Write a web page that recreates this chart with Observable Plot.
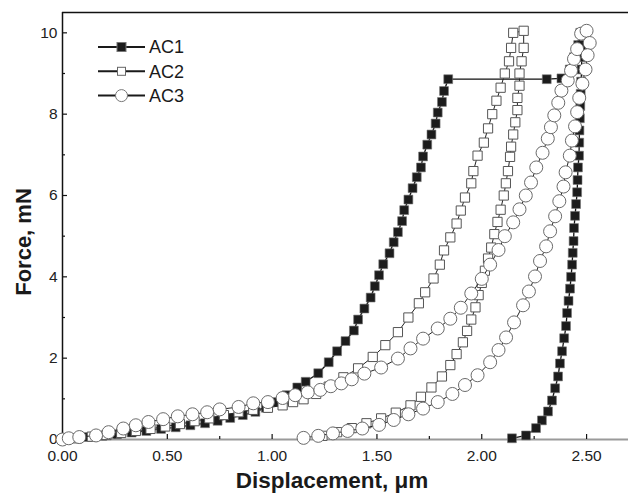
<!DOCTYPE html>
<html>
<head>
<meta charset="utf-8">
<script src="https://cdn.jsdelivr.net/npm/d3@7"></script>
<script src="https://cdn.jsdelivr.net/npm/@observablehq/plot@0.6"></script>
<style>
  body { margin: 0; background: #fff; }
  #chart svg { display: block; }
</style>
</head>
<body>
<div id="chart"></div>
<script>
// ---------- data (displacement in µm, force in mN) ----------
const seriesNames = ["AC1", "AC2", "AC3"];

const ac1Disp = [0.00,0.06,0.12,0.19,0.26,0.33,0.40,0.47,0.54,0.61,0.68,0.74,0.80,0.86,0.92,0.97,1.02,1.07,1.12,1.16,1.22,1.27,1.31,1.35,1.39,1.41,1.44,1.47,1.49,1.51,1.53,1.56,1.58,1.60,1.62,1.63,1.65,1.67,1.69,1.71,1.72,1.74,1.76,1.78,1.79,1.81,1.82,1.84,
  2.31,2.38,2.42,2.44,2.46,2.47,
  2.475,2.477,2.476,2.474,2.472,2.470,2.468,2.466,2.465,2.464,2.459,2.457,2.455,2.450,2.445,2.440,2.438,2.434,2.431,2.426,2.421,2.414,2.407,2.402,2.393,2.383,2.373,2.364,2.350,2.335,2.316,2.287,2.259,2.211,2.144];
const ac1Force = [0.00,0.03,0.06,0.09,0.13,0.17,0.21,0.26,0.30,0.35,0.40,0.46,0.53,0.60,0.68,0.78,0.92,1.09,1.28,1.42,1.63,1.90,2.17,2.42,2.68,2.95,3.22,3.49,3.77,4.04,4.31,4.58,4.85,5.10,5.37,5.64,5.90,6.18,6.45,6.69,6.96,7.25,7.50,7.77,8.04,8.30,8.57,8.86,
  8.86,8.88,9.10,9.40,9.70,10.00,
  9.70,9.40,9.10,8.80,8.50,8.20,7.90,7.60,7.30,6.98,6.69,6.38,6.08,5.79,5.50,5.20,4.88,4.59,4.30,4.00,3.71,3.41,3.11,2.79,2.49,2.17,1.87,1.55,1.26,0.96,0.69,0.47,0.28,0.10,0.03];

const ac2Disp = [0.00,0.07,0.14,0.21,0.28,0.35,0.42,0.49,0.56,0.63,0.70,0.77,0.84,0.91,0.98,1.05,1.10,1.15,1.21,1.27,1.34,1.41,1.48,1.54,1.60,1.65,1.70,1.73,1.77,1.80,1.82,1.85,1.88,1.90,1.92,1.95,1.96,1.98,2.01,2.03,2.05,2.07,2.09,2.11,2.13,2.14,2.15,
  2.20,2.20,2.19,2.18,2.18,2.17,2.17,2.16,2.15,2.14,2.135,2.125,2.115,2.105,2.09,2.075,2.06,2.045,2.03,2.015,2.00,1.985,1.97,1.95,1.93,1.91,1.88,1.85,1.81,1.76,1.71,1.66,1.59,1.52,1.45,1.38,1.31,1.24];
const ac2Force = [0.00,0.03,0.07,0.11,0.16,0.21,0.26,0.32,0.38,0.45,0.52,0.60,0.67,0.73,0.78,0.84,0.92,0.99,1.12,1.30,1.53,1.75,2.03,2.32,2.64,3.00,3.35,3.62,3.96,4.30,4.65,4.97,5.31,5.63,5.95,6.30,6.60,6.98,7.30,7.65,8.00,8.33,8.65,9.00,9.30,9.63,10.00,
  10.05,9.63,9.30,9.00,8.70,8.40,8.10,7.80,7.50,7.20,6.95,6.60,6.30,6.00,5.65,5.35,5.05,4.72,4.45,4.15,3.85,3.55,3.25,2.95,2.67,2.39,2.10,1.83,1.55,1.28,1.05,0.84,0.66,0.52,0.40,0.28,0.18,0.09];

const ac3Disp = [0.00,0.03,0.08,0.16,0.22,0.29,0.35,0.41,0.48,0.55,0.62,0.69,0.75,0.84,0.91,0.98,1.05,1.11,1.17,1.23,1.28,1.33,1.38,1.44,1.52,1.60,1.66,1.72,1.79,1.85,1.90,1.95,2.00,2.04,2.08,2.11,2.15,2.18,2.21,2.235,2.26,2.29,2.315,2.33,2.346,2.365,2.38,2.41,2.426,2.44,2.455,2.474,2.50,
  2.515,2.505,2.495,2.48,2.465,2.455,2.445,2.43,2.42,2.40,2.39,2.37,2.35,2.326,2.307,2.278,2.254,2.225,2.197,2.154,2.116,2.08,2.04,1.98,1.92,1.86,1.79,1.72,1.65,1.58,1.51,1.43,1.36,1.29,1.22,1.15];
const ac3Force = [0.00,0.03,0.06,0.10,0.18,0.27,0.35,0.43,0.50,0.57,0.62,0.67,0.74,0.80,0.89,0.92,1.02,1.09,1.16,1.22,1.31,1.38,1.48,1.62,1.77,1.99,2.24,2.48,2.73,2.97,3.24,3.59,3.95,4.30,4.66,5.00,5.34,5.66,6.00,6.32,6.69,7.05,7.40,7.68,7.97,8.28,8.58,8.83,9.07,9.36,9.60,9.98,10.05,
  9.75,9.45,9.10,8.75,8.40,8.05,7.70,7.35,6.98,6.57,6.22,5.86,5.49,5.12,4.75,4.39,4.01,3.64,3.30,2.88,2.51,2.20,1.90,1.58,1.34,1.12,0.92,0.76,0.62,0.48,0.36,0.27,0.21,0.15,0.09,0.04];

const xMajorTicks = [0, 0.5, 1.0, 1.5, 2.0, 2.5];
const xMinorTicks = [0.25, 0.75, 1.25, 1.75, 2.25];
const yMajorTicks = [0, 2, 4, 6, 8, 10];
const yMinorTicks = [1, 3, 5, 7, 9];
const xTickLabels = ["0.00", "0.50", "1.00", "1.50", "2.00", "2.50"];
const yTickLabels = ["0", "2", "4", "6", "8", "10"];
const xTitle = "Displacement, \u03bcm";
const yTitle = "Force, mN";

// ---------- build tables ----------
const zip = (xs, ys) => xs.map((x, i) => ({x, y: ys[i]}));
const ac1 = zip(ac1Disp, ac1Force);
const ac2 = zip(ac2Disp, ac2Force);
const ac3 = zip(ac3Disp, ac3Force);

const W = 628, H = 494, mL = 62, mR = 0, mT = 12, mB = 55;
const frameW = W - mL - mR, frameH = H - mT - mB;
const FONT = "'Liberation Sans', Arial, sans-serif";

const plot = Plot.plot({
  width: W, height: H,
  marginLeft: mL, marginRight: mR, marginTop: mT, marginBottom: mB,
  style: {fontFamily: FONT, background: "#fff", overflow: "visible"},
  x: {domain: [0, 2.7]},
  y: {domain: [0, 10.5]},
  marks: [
    // frame
    Plot.ruleY([0], {stroke: "#9a9a9a", strokeWidth: 1.8}),
    Plot.ruleY([10.5], {stroke: "#111", strokeWidth: 1.5}),
    Plot.ruleX([0], {stroke: "#111", strokeWidth: 1.5}),
    // inward ticks
    Plot.tickY(yMajorTicks, {y: d => d, insetRight: frameW - 5, stroke: "#111", strokeWidth: 1.2}),
    Plot.tickY(yMinorTicks, {y: d => d, insetRight: frameW - 3, stroke: "#111", strokeWidth: 1.2}),
    Plot.tickX(xMajorTicks, {x: d => d, insetTop: frameH - 5, stroke: "#111", strokeWidth: 1.2}),
    Plot.tickX(xMinorTicks, {x: d => d, insetTop: frameH - 3, stroke: "#111", strokeWidth: 1.2}),
    Plot.axisX({ticks: xMajorTicks, tickFormat: (d, i) => xTickLabels[i], tickSize: 0, tickPadding: 10, fontSize: 15.5, fill: "#222", label: null}),
    Plot.axisY({ticks: yMajorTicks, tickFormat: (d, i) => yTickLabels[i], tickSize: 0, tickPadding: 5, fontSize: 15.5, fill: "#222", label: null}),
    // AC1
    Plot.line(ac1, {x: "x", y: "y", stroke: "#111", strokeWidth: 1.3}),
    Plot.dot(ac1, {x: "x", y: "y", symbol: "square", r: 5, fill: "#1c1c1c", stroke: "#777", strokeWidth: 0.6}),
    // AC2
    Plot.line(ac2, {x: "x", y: "y", stroke: "#222", strokeWidth: 1}),
    Plot.dot(ac2, {x: "x", y: "y", symbol: "square", r: 5.2, fill: "#fff", stroke: "#555", strokeWidth: 1}),
    // AC3
    Plot.line(ac3, {x: "x", y: "y", stroke: "#222", strokeWidth: 1}),
    Plot.dot(ac3, {x: "x", y: "y", symbol: "circle", r: 6.5, fill: "#fff", stroke: "#6a6a6a", strokeWidth: 1})
  ]
});

const svg = d3.select(plot);

// axis titles
svg.append("text")
  .attr("x", 332).attr("y", 488)
  .attr("text-anchor", "middle")
  .attr("font-family", FONT)
  .attr("font-weight", "bold").attr("font-size", 22.5).attr("fill", "#1a1a1a")
  .text(xTitle);
svg.append("text")
  .attr("transform", "translate(31,242) rotate(-90)")
  .attr("text-anchor", "middle")
  .attr("font-family", FONT)
  .attr("font-weight", "bold").attr("font-size", 22).attr("fill", "#1a1a1a")
  .text(yTitle);

// legend
const legend = svg.append("g").attr("font-family", FONT).attr("text-anchor", "start");
const legendStyles = [
  {shape: "square", fill: "#1c1c1c", stroke: "#777", size: 9},
  {shape: "square", fill: "#fff", stroke: "#666", size: 8},
  {shape: "circle", fill: "#fff", stroke: "#777", size: 12}
];
seriesNames.forEach((name, i) => {
  const cy = 47 + i * 24.3;
  const g = legend.append("g").attr("transform", `translate(0,${cy})`);
  g.append("line").attr("x1", 98).attr("x2", 145).attr("y1", 0).attr("y2", 0)
    .attr("stroke", "#1a1a1a").attr("stroke-width", 2);
  const s = legendStyles[i];
  if (s.shape === "square") {
    g.append("rect").attr("x", 121.5 - s.size / 2).attr("y", -s.size / 2)
      .attr("width", s.size).attr("height", s.size)
      .attr("fill", s.fill).attr("stroke", s.stroke).attr("stroke-width", 1);
  } else {
    g.append("circle").attr("cx", 121.5).attr("cy", 0).attr("r", s.size / 2)
      .attr("fill", s.fill).attr("stroke", s.stroke).attr("stroke-width", 1);
  }
  g.append("text").attr("x", 149).attr("y", 0).attr("dy", "0.36em")
    .attr("text-anchor", "start")
    .attr("font-size", 18).attr("fill", "#1a1a1a").text(name);
});

document.getElementById("chart").append(plot);
</script>
</body>
</html>
